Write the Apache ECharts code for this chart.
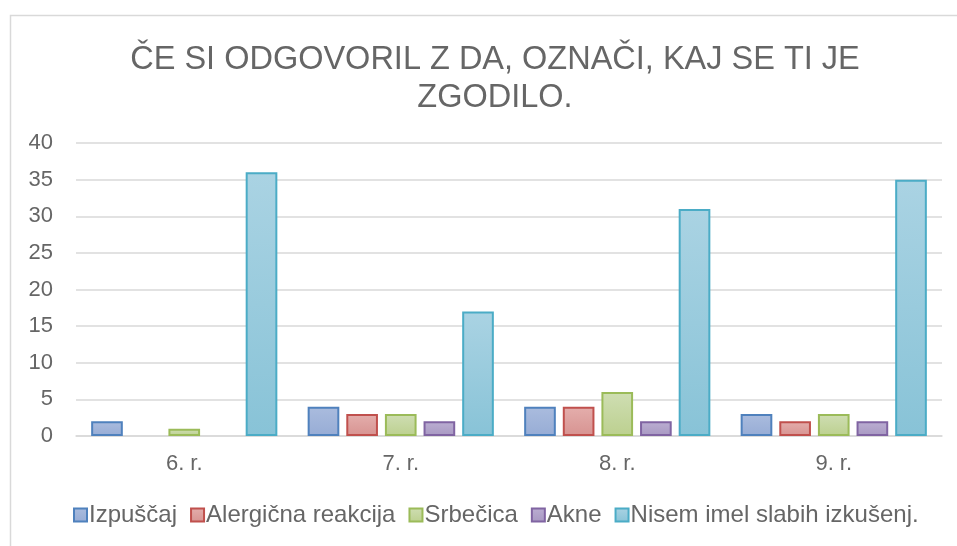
<!DOCTYPE html>
<html>
<head>
<meta charset="utf-8">
<script src="https://cdn.jsdelivr.net/npm/echarts@6/dist/echarts.min.js"></script>
<style>
  html, body { margin: 0; padding: 0; background: #ffffff; }
  #chart { width: 957px; height: 546px; }
</style>
</head>
<body>
<div id="chart"></div>
<script>
  var categories = ['6. r.', '7. r.', '8. r.', '9. r.'];
  var seriesNames = ['Izpuščaj', 'Alergična reakcija', 'Srbečica', 'Akne', 'Nisem imel slabih izkušenj.'];
  var izpuscaj = [2, 4, 4, 3];
  var alergicna = [0, 3, 4, 2];
  var srbecica = [1, 3, 6, 3];
  var akne = [0, 2, 2, 2];
  var nisem = [36, 17, 31, 35];
  var yTicks = [0, 5, 10, 15, 20, 25, 30, 35, 40];

  var values = [izpuscaj, alergicna, srbecica, akne, nisem];
  // border, gradient top, gradient bottom
  var colors = [
    ['#4f81bd', '#aabcde', '#97acd5'],
    ['#c0504d', '#e4aeac', '#d79391'],
    ['#9bbb59', '#cfdeb3', '#bcd08f'],
    ['#8064a2', '#bbaed2', '#a898c2'],
    ['#4bacc6', '#aad3e3', '#88c3d7']
  ];
  var textColor = '#666666';

  var chart = echarts.init(document.getElementById('chart'));

  var series = seriesNames.map(function (name, i) {
    return {
      name: name,
      type: 'bar',
      barGap: '22%',
      barCategoryGap: '14%',
      itemStyle: {
        color: new echarts.graphic.LinearGradient(0, 0, 0, 1, [
          { offset: 0, color: colors[i][1] },
          { offset: 1, color: colors[i][2] }
        ]),
        borderColor: colors[i][0],
        borderWidth: 2
      },
      // zero values have no visible bar in the original
      data: values[i].map(function (v) { return v === 0 ? '-' : v; })
    };
  });

  var option = {
    animation: false,
    backgroundColor: '#ffffff',
    graphic: [{
      type: 'rect',
      shape: { x: 10.5, y: 15.5, width: 960, height: 540 },
      style: { fill: 'none', stroke: '#d9d9d9', lineWidth: 1.5 },
      silent: true
    }],
    title: {
      text: 'ČE SI ODGOVORIL Z DA, OZNAČI, KAJ SE TI JE\nZGODILO.',
      left: 490,
      top: 36,
      textAlign: 'center',
      textStyle: {
        fontFamily: 'Liberation Sans',
        fontSize: 32.5,
        fontWeight: 'normal',
        color: textColor,
        lineHeight: 38,
        align: 'center'
      }
    },
    legend: {
      data: seriesNames,
      bottom: 14,
      left: 68,
      icon: 'rect',
      itemWidth: 13,
      itemHeight: 13,
      itemGap: 13,
      textStyle: {
        fontFamily: 'Liberation Sans',
        fontSize: 24,
        color: textColor,
        padding: [0, 0, 0, -3]
      }
    },
    grid: {
      left: 76,
      right: 15,
      top: 143,
      bottom: 110
    },
    xAxis: {
      type: 'category',
      data: categories,
      axisLine: { lineStyle: { color: '#d9d9d9', width: 1.5 } },
      axisTick: { show: false },
      axisLabel: {
        margin: 17,
        fontFamily: 'Liberation Sans',
        fontSize: 22,
        color: textColor
      }
    },
    yAxis: {
      type: 'value',
      min: yTicks[0],
      max: yTicks[yTicks.length - 1],
      interval: 5,
      axisLine: { show: false },
      axisTick: { show: false },
      splitLine: { lineStyle: { color: '#d9d9d9', width: 1.5 } },
      axisLabel: {
        margin: 23,
        fontFamily: 'Liberation Sans',
        fontSize: 22,
        color: textColor
      }
    },
    series: series
  };

  chart.setOption(option);
</script>
</body>
</html>
